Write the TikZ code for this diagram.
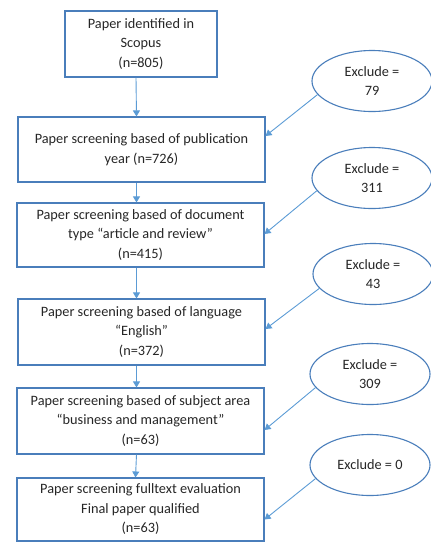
\documentclass[tikz,border=0pt]{standalone}
\usepackage{fontspec}
\setmainfont{Carlito}
\usepackage{xcolor}
\usepackage{tikz}
\usetikzlibrary{shapes.geometric,arrows.meta}
\definecolor{boxblue}{HTML}{4A7EBB}
\definecolor{arrowblue}{HTML}{5B9BD5}
\definecolor{txtgray}{HTML}{262626}

\begin{document}
\begin{tikzpicture}[x=1pt, y=-1pt,
    stagebox/.style={draw=boxblue, line width=1.1pt, align=center, text=txtgray, inner sep=0pt,
        font=\fontsize{14.3}{19.5}\selectfont},
    exclude/.style={ellipse, draw=boxblue, line width=1.1pt, align=center, text=txtgray, inner sep=0pt,
        minimum width=120pt, minimum height=61pt, font=\fontsize{14.3}{19.5}\selectfont},
    flow/.style={->, >={Triangle[width=7pt,length=6pt]}, draw=arrowblue, line width=0.9pt}]
    \useasboundingbox (0,0) rectangle (431,542);
    % screening steps
    \node[stagebox, minimum width=152pt, minimum height=66pt] (b1) at (141,44) {Paper identified in\\Scopus\\(n=805)};
    \node[stagebox, minimum width=247pt, minimum height=65pt] (b2) at (141.5,149.5) {Paper screening based of publication\\year (n=726)};
    \node[stagebox, minimum width=247pt, minimum height=64pt] (b3) at (140.5,235) {Paper screening based of document\\type “article and review”\\(n=415)};
    \node[stagebox, minimum width=247pt, minimum height=66pt] (b4) at (141.5,332) {Paper screening based of language\\“English”\\(n=372)};
    \node[stagebox, minimum width=247pt, minimum height=66pt] (b5) at (140.5,421) {Paper screening based of subject area\\“business and management”\\(n=63)};
    \node[stagebox, minimum width=247pt, minimum height=63pt] (b6) at (140.5,509.5) {Paper screening fulltext evaluation\\Final paper qualified\\(n=63)};
    % excluded counts
    \node[exclude] (e1) at (372,81) {Exclude =\\79};
    \node[exclude] (e2) at (372,178) {Exclude =\\311};
    \node[exclude] (e3) at (373,274) {Exclude =\\43};
    \node[exclude] (e4) at (370,374) {Exclude =\\309};
    \node[exclude] (e5) at (370,465) {Exclude = 0};
    % main flow
    \draw[flow] ([xshift=-5pt]b1.south) -- ([xshift=-5pt]b2.north);
    \draw[flow] ([xshift=-5pt]b2.south) -- ([xshift=-4pt]b3.north);
    \draw[flow] ([xshift=-4pt]b3.south) -- ([xshift=-5pt]b4.north);
    \draw[flow] ([xshift=-5pt]b4.south) -- ([xshift=-4pt]b5.north);
    \draw[flow] ([xshift=-4pt]b5.south) -- ([xshift=-5pt]b6.north);
    % exclusions into the steps
    \draw[flow] (e1.194) -- ([yshift=13.5pt]b2.east);
    \draw[flow] (e2.193) -- ([yshift=1pt]b3.east);
    \draw[flow] (e3.195) -- ([yshift=3pt]b4.east);
    \draw[flow] (e4.194) -- ([yshift=-9pt]b5.east);
    \draw[flow] (e5.194) -- ([yshift=-10pt]b6.east);
\end{tikzpicture}
\end{document}
